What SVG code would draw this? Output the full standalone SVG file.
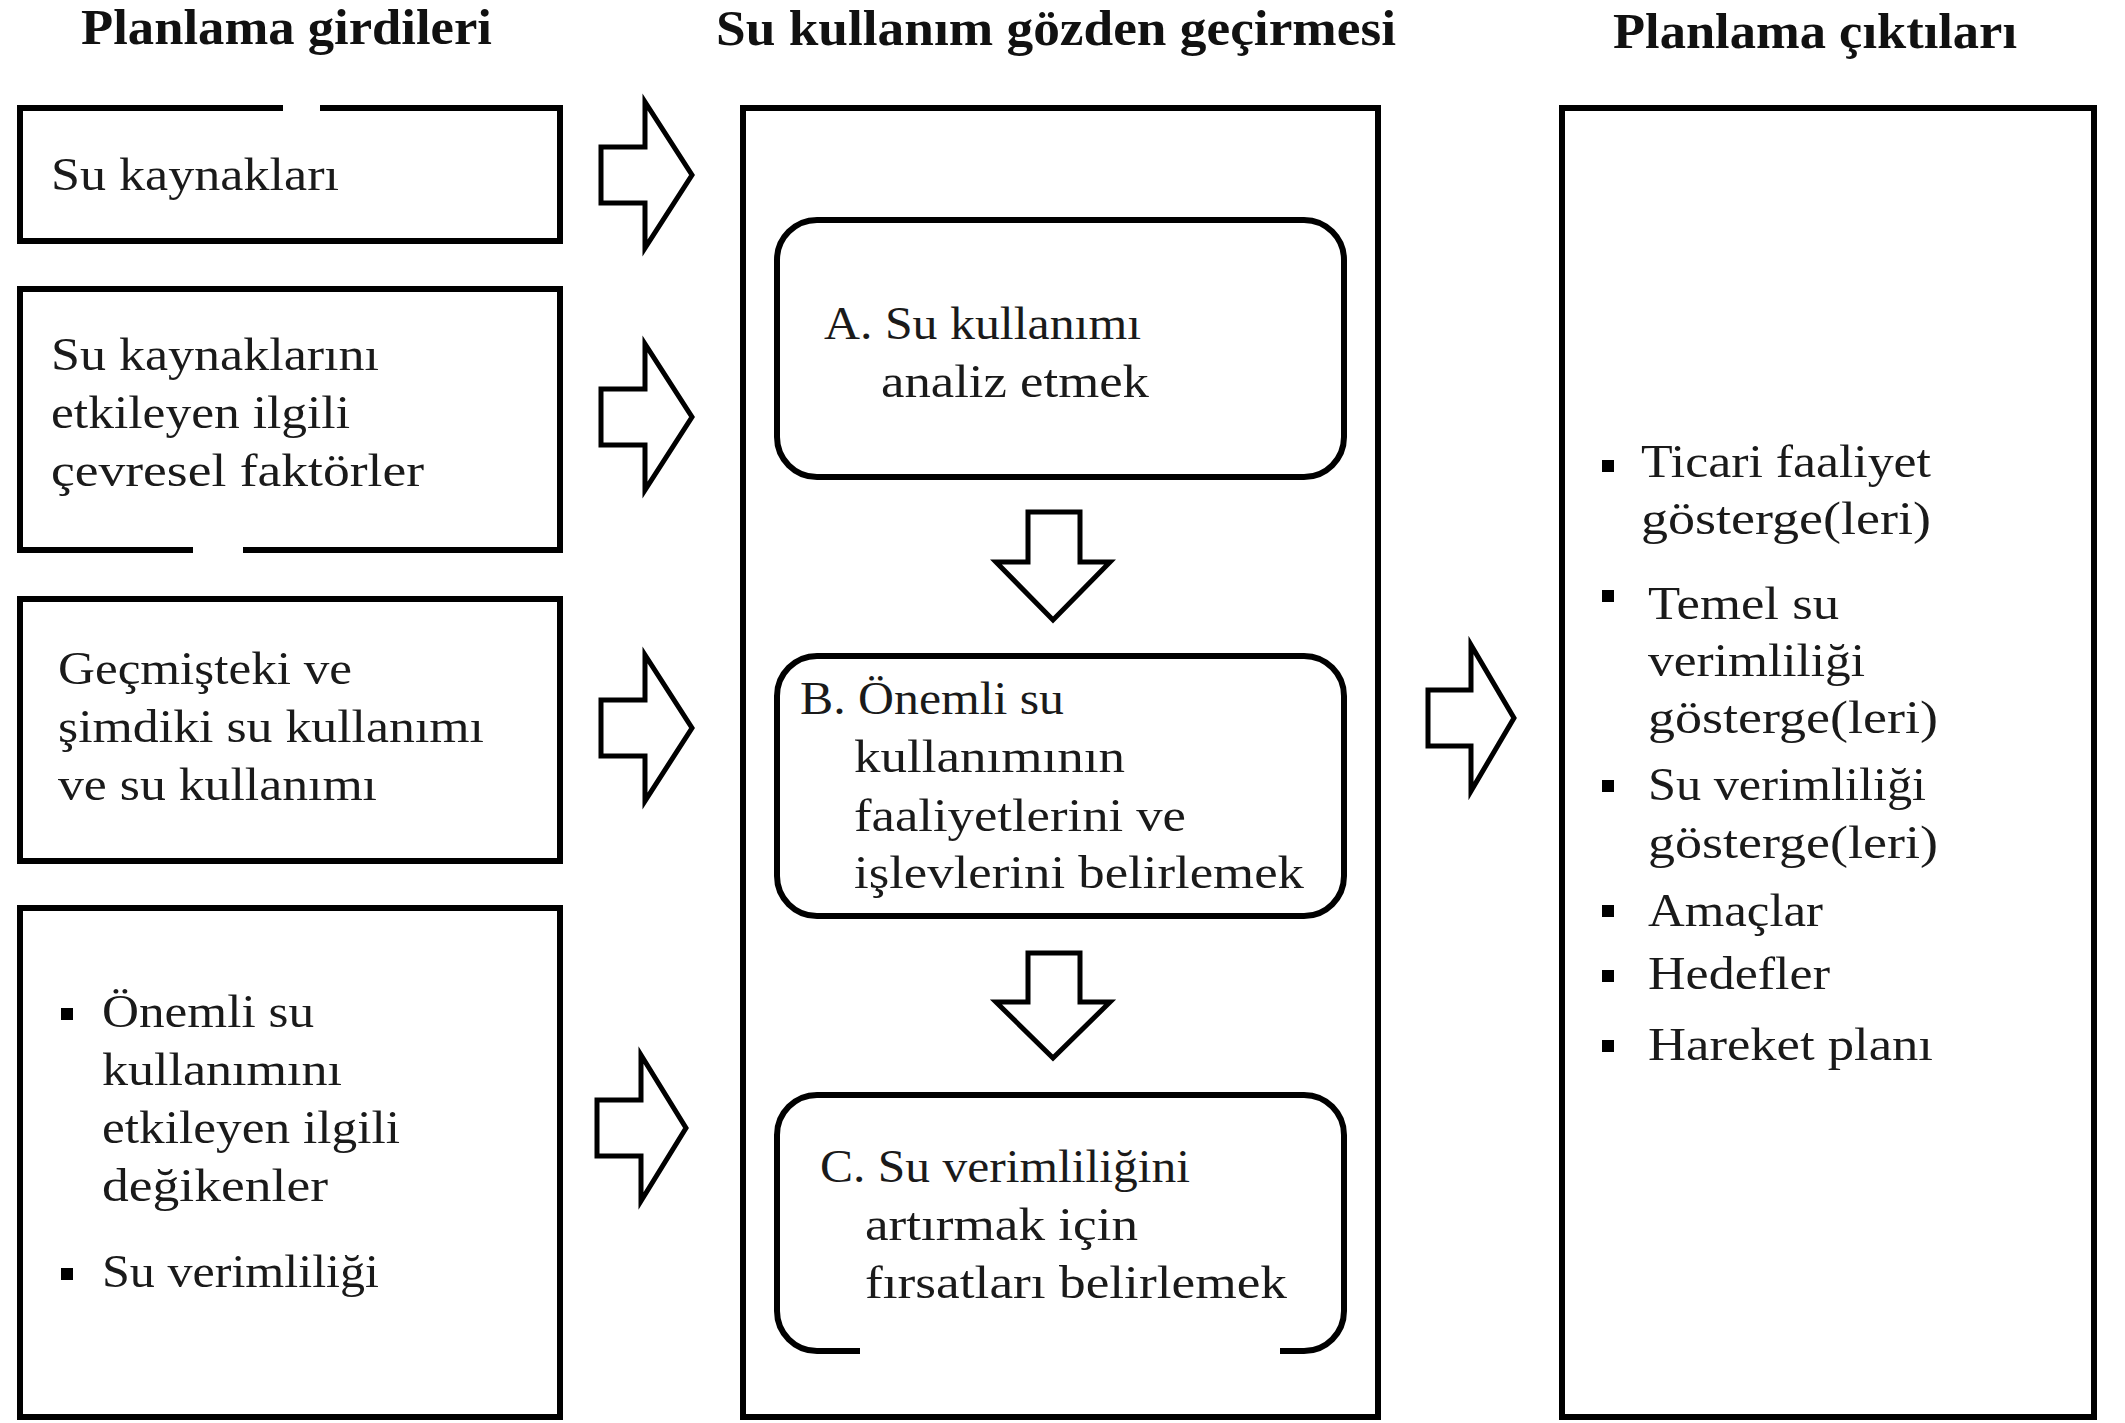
<svg xmlns="http://www.w3.org/2000/svg" width="2125" height="1423" viewBox="0 0 2125 1423">
<style>
.box{fill:none;stroke:#000;stroke-width:6;stroke-linejoin:miter}
.rbox{fill:none;stroke:#000;stroke-width:6}
.arr{fill:#fff;stroke:#000;stroke-width:5;stroke-linejoin:miter}
.t{font-family:"Liberation Serif","DejaVu Serif",serif;font-size:46px;fill:#1a1a1a}
.h{font-family:"Liberation Serif","DejaVu Serif",serif;font-size:50px;font-weight:bold;fill:#111}
.bul{fill:#000}
</style>
<rect width="2125" height="1423" fill="#fff"/>
<g id="titles">
<text class="h" x="81" y="44" textLength="411" lengthAdjust="spacingAndGlyphs">Planlama girdileri</text>
<text class="h" x="716" y="45" textLength="680" lengthAdjust="spacingAndGlyphs">Su kullanım gözden geçirmesi</text>
<text class="h" x="1613" y="48" textLength="404" lengthAdjust="spacingAndGlyphs">Planlama çıktıları</text>
</g>
<g id="in1">
<path class="box" d="M283,108 H20 V241 H560 V108 H320"/>
<text class="t" x="51" y="190" textLength="288" lengthAdjust="spacingAndGlyphs">Su kaynakları</text>
</g>
<g id="in2">
<path class="box" d="M193,550 H20 V289 H560 V550 H243"/>
<text class="t" x="51" y="370" textLength="328" lengthAdjust="spacingAndGlyphs">Su kaynaklarını</text>
<text class="t" x="51" y="428" textLength="299" lengthAdjust="spacingAndGlyphs">etkileyen ilgili</text>
<text class="t" x="51" y="486" textLength="373" lengthAdjust="spacingAndGlyphs">çevresel faktörler</text>
</g>
<g id="in3">
<rect class="box" x="20" y="599" width="540" height="262"/>
<text class="t" x="58" y="684" textLength="294" lengthAdjust="spacingAndGlyphs">Geçmişteki ve</text>
<text class="t" x="58" y="742" textLength="426" lengthAdjust="spacingAndGlyphs">şimdiki su kullanımı</text>
<text class="t" x="58" y="800" textLength="319" lengthAdjust="spacingAndGlyphs">ve su kullanımı</text>
</g>
<g id="in4">
<rect class="box" x="20" y="908" width="540" height="509"/>
<rect class="bul" x="61" y="1008" width="12" height="12"/>
<text class="t" x="102" y="1027" textLength="212" lengthAdjust="spacingAndGlyphs">Önemli su</text>
<text class="t" x="102" y="1085" textLength="240" lengthAdjust="spacingAndGlyphs">kullanımını</text>
<text class="t" x="102" y="1143" textLength="298" lengthAdjust="spacingAndGlyphs">etkileyen ilgili</text>
<text class="t" x="102" y="1201" textLength="226" lengthAdjust="spacingAndGlyphs">değikenler</text>
<rect class="bul" x="61" y="1268" width="12" height="12"/>
<text class="t" x="102" y="1287" textLength="277" lengthAdjust="spacingAndGlyphs">Su verimliliği</text>
</g>
<g id="review">
<rect class="box" x="743" y="108" width="635" height="1309"/>
</g>
<g id="stepA">
<rect class="rbox" x="777" y="220" width="567" height="257" rx="40" ry="40"/>
<text class="t" x="824" y="339" textLength="317" lengthAdjust="spacingAndGlyphs">A. Su kullanımı</text>
<text class="t" x="881" y="397" textLength="268" lengthAdjust="spacingAndGlyphs">analiz etmek</text>
</g>
<g id="stepB">
<rect class="rbox" x="777" y="656" width="567" height="260" rx="40" ry="40"/>
<text class="t" x="800" y="714" textLength="264" lengthAdjust="spacingAndGlyphs">B. Önemli su</text>
<text class="t" x="854" y="772" textLength="271" lengthAdjust="spacingAndGlyphs">kullanımının</text>
<text class="t" x="854" y="831" textLength="332" lengthAdjust="spacingAndGlyphs">faaliyetlerini ve</text>
<text class="t" x="854" y="888" textLength="450" lengthAdjust="spacingAndGlyphs">işlevlerini belirlemek</text>
</g>
<g id="stepC">
<path class="rbox" d="M860,1351 H817 A40,40 0 0 1 777,1311 V1135 A40,40 0 0 1 817,1095 H1304 A40,40 0 0 1 1344,1135 V1311 A40,40 0 0 1 1304,1351 H1280"/>
<text class="t" x="820" y="1182" textLength="370" lengthAdjust="spacingAndGlyphs">C. Su verimliliğini</text>
<text class="t" x="865" y="1240" textLength="273" lengthAdjust="spacingAndGlyphs">artırmak için</text>
<text class="t" x="865" y="1298" textLength="422" lengthAdjust="spacingAndGlyphs">fırsatları belirlemek</text>
</g>
<g id="outputs">
<rect class="box" x="1562" y="108" width="532" height="1309"/>
<rect class="bul" x="1602" y="460" width="12" height="12"/>
<text class="t" x="1641" y="477" textLength="290" lengthAdjust="spacingAndGlyphs">Ticari faaliyet</text>
<text class="t" x="1641" y="534" textLength="290" lengthAdjust="spacingAndGlyphs">gösterge(leri)</text>
<rect class="bul" x="1602" y="590" width="12" height="12"/>
<text class="t" x="1648" y="619" textLength="191" lengthAdjust="spacingAndGlyphs">Temel su</text>
<text class="t" x="1648" y="676" textLength="217" lengthAdjust="spacingAndGlyphs">verimliliği</text>
<text class="t" x="1648" y="733" textLength="290" lengthAdjust="spacingAndGlyphs">gösterge(leri)</text>
<rect class="bul" x="1602" y="780" width="12" height="12"/>
<text class="t" x="1648" y="800" textLength="278" lengthAdjust="spacingAndGlyphs">Su verimliliği</text>
<text class="t" x="1648" y="858" textLength="290" lengthAdjust="spacingAndGlyphs">gösterge(leri)</text>
<rect class="bul" x="1602" y="905" width="12" height="12"/>
<text class="t" x="1648" y="926" textLength="175" lengthAdjust="spacingAndGlyphs">Amaçlar</text>
<rect class="bul" x="1602" y="970" width="12" height="12"/>
<text class="t" x="1648" y="989" textLength="182" lengthAdjust="spacingAndGlyphs">Hedefler</text>
<rect class="bul" x="1602" y="1040" width="12" height="12"/>
<text class="t" x="1648" y="1060" textLength="285" lengthAdjust="spacingAndGlyphs">Hareket planı</text>
</g>
<g id="connectors">
<polygon class="arr" points="601,147 645,147 645,102 692,175 645,248 645,203 601,203"/>
<polygon class="arr" points="601,389 645,389 645,344 692,417 645,490 645,445 601,445"/>
<polygon class="arr" points="601,700 645,700 645,655 692,728 645,801 645,756 601,756"/>
<polygon class="arr" points="597,1100 641,1100 641,1055 686,1128 641,1201 641,1156 597,1156"/>
<polygon class="arr" points="1428,690 1471,690 1471,645 1514,718 1471,791 1471,746 1428,746"/>
<polygon class="arr" points="1028,512 1080,512 1080,562 1110,562 1053,620 996,562 1028,562"/>
<polygon class="arr" points="1028,953 1080,953 1080,1002 1110,1002 1053,1058 996,1002 1028,1002"/>
</g>
</svg>
